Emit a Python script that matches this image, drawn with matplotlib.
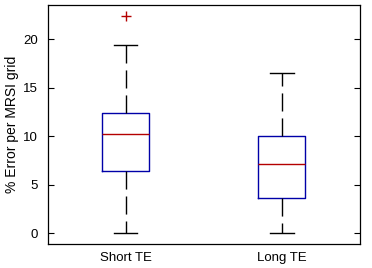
import matplotlib

matplotlib.use("Agg")
import matplotlib.pyplot as plt  # noqa: E402

plt.rcParams["font.family"] = ["Liberation Sans", "DejaVu Sans"]

# values (percent error per MRSI grid)
labels = ["Short TE", "Long TE"]
q1 = [6.4, 3.6]
median = [10.2, 7.1]
q3 = [12.45, 10.0]
whisker_lo = [0.0, 0.0]
whisker_hi = [19.4, 16.5]
outliers = [[22.45], []]

stats = []
for i, name in enumerate(labels):
    stats.append({
        "label": name, "q1": q1[i], "med": median[i], "q3": q3[i],
        "whislo": whisker_lo[i], "whishi": whisker_hi[i], "fliers": outliers[i],
    })

fig = plt.figure(figsize=(3.72, 2.68), dpi=100)
ax = fig.add_axes([47.5 / 372, 1 - 244 / 268, 312.5 / 372, 239.5 / 268])

blue = "#0000a8"
red = "#b40000"
ax.bxp(
    stats, widths=0.3,
    boxprops=dict(color=blue, linewidth=1.0),
    medianprops=dict(color=red, linewidth=1.0),
    whiskerprops=dict(color="black", linewidth=1.0, linestyle=(0, (13, 5))),
    capprops=dict(color="black", linewidth=1.0),
    capwidths=0.15,
    flierprops=dict(marker="+", markeredgecolor=red, markersize=7, markeredgewidth=1.0),
)

ax.set_xlim(0.5, 2.5)
ax.set_ylim(-1.1, 23.6)
ax.set_yticks([0, 5, 10, 15, 20])
ax.set_xticks([1, 2])
ax.set_xticklabels(labels)
ax.tick_params(axis="y", direction="in", right=True, length=4, labelsize=9.5, width=0.8, pad=7)
ax.tick_params(axis="x", length=0, labelsize=9.5, pad=6)
for s in ax.spines.values():
    s.set_linewidth(0.9)
ax.set_ylabel("% Error per MRSI grid", fontsize=10, labelpad=3)

fig.savefig("out.png", dpi=100)
plt.close(fig)
